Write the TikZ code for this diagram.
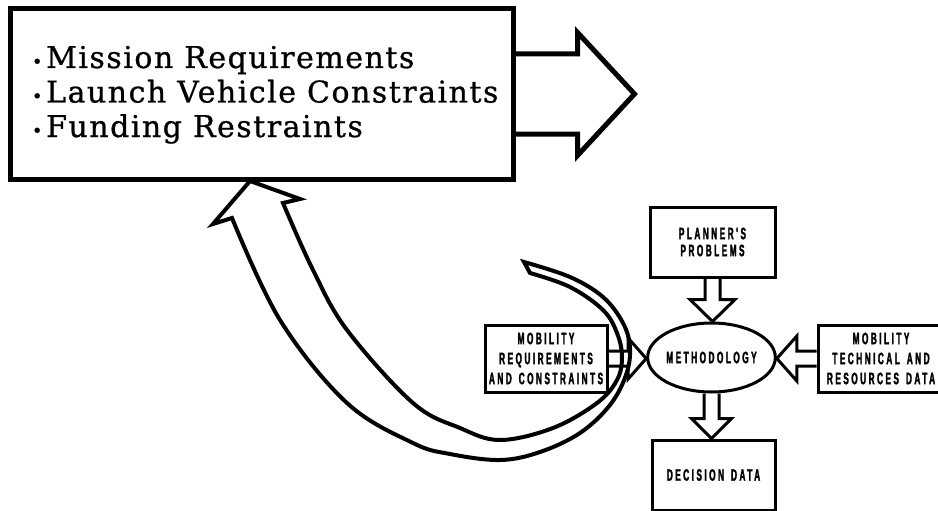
\documentclass[tikz,border=0pt]{standalone}
\usepackage{fontspec}
\usetikzlibrary{calc,shapes.geometric,backgrounds}
\newfontfamily\listfont[LetterSpace=5,FakeBold=0.8]{DejaVu Serif}
\newfontfamily\capsfont[FakeStretch=0.5,LetterSpace=15,FakeBold=1.8,UprightFont={* Bold}]{Liberation Sans}
\newcommand\wsp{\hspace{7pt}}
\tikzset{
  thickbox/.style={draw, line width=5pt, fill=white, inner sep=0pt},
  smallbox/.style={draw, line width=3pt, fill=white, inner sep=0pt, align=center,
    font=\capsfont\fontsize{16.5}{20}\selectfont},
  listtext/.style={anchor=base west, inner sep=0pt, font=\listfont\fontsize{30}{32}\selectfont},
  bigarrow/.style={draw, line width=5pt, fill=white, line join=miter},
  smallarrow/.style={draw, line width=3pt, fill=white, line join=miter},
  loopline/.style={draw, line width=4pt, line join=miter},
}
% style, from, to, shaft half width, head half width, head length
\newcommand\blockarr[6]{%
  \coordinate (ba-h) at ($(#3)!#6!(#2)$);
  \filldraw[#1] ($(#2)!#4!90:(#3)$) -- ($(ba-h)!#4!90:(#3)$) -- ($(ba-h)!#5!90:(#3)$)
    -- (#3) -- ($(ba-h)!#5!-90:(#3)$) -- ($(ba-h)!#4!-90:(#3)$) -- ($(#2)!#4!-90:(#3)$);
}
\newcommand\blt{\makebox[18pt][c]{\fontsize{18}{18}\selectfont •}}
\begin{document}
\begin{tikzpicture}[x=1pt,y=-1pt]
\useasboundingbox (0,0) rectangle (938,511);
\begin{scope}[on background layer]
  \fill[white] (0,0) rectangle (938,511);
\end{scope}

% main box
\node[thickbox, minimum width=503pt, minimum height=170pt] (mainbox) at (261.5,94) {};
\node[listtext] (l1) at (28,68) {\blt Mission Requirements};
\node[listtext] (l2) at (28,102.5) {\blt Launch Vehicle Constraints};
\node[listtext] (l3) at (28,137) {\blt Funding Restraints};
\coordinate (maintip) at ($(mainbox.east)+(119,0)$);

% small diagram
\node[smallbox, minimum width=125pt, minimum height=70pt,
  font=\capsfont\fontsize{16.5}{17}\selectfont] (planner) at (712.5,242) {PLANNER'S\\PROBLEMS};
\node[ellipse, draw, line width=3pt, fill=white, minimum width=113pt, minimum height=69pt,
  inner sep=0pt, font=\capsfont\fontsize{16.5}{20}\selectfont] (meth) at (711.5,357.5) {METHODOLOGY};
\node[smallbox, minimum width=123pt, minimum height=70pt] (decision) at (713.5,475) {DECISION\wsp DATA};
\node[smallbox, minimum width=122pt, minimum height=67pt] (leftbox) at (546,358.5) {MOBILITY\\REQUIREMENTS\\AND\wsp CONSTRAINTS};
\node[smallbox, minimum width=126pt, minimum height=67pt] (rightbox) at (881,358.5) {MOBILITY\\TECHNICAL\wsp AND\\RESOURCES\wsp DATA};

\coordinate (pm) at (planner.south |- meth.north);
\coordinate (md) at (meth.south |- decision.north);
\coordinate (lm) at (leftbox.east -| meth.west);
\coordinate (rm) at (rightbox.west -| meth.east);

\begin{scope}[on background layer]
  \blockarr{bigarrow}{mainbox.east}{maintip}{40pt}{61.5pt}{57pt}
  \blockarr{smallarrow}{planner.south}{pm}{7.5pt}{22.5pt}{22pt}
  \blockarr{smallarrow}{meth.south}{md}{7.5pt}{20pt}{20pt}
  \blockarr{smallarrow}{leftbox.east}{lm}{7.5pt}{20.5pt}{18pt}
  \blockarr{smallarrow}{rightbox.west}{rm}{7.5pt}{22.5pt}{20pt}
\end{scope}

% curved feedback arrow
\coordinate (looptip) at (250,181);
\draw[loopline] (524,262)
  -- plot[smooth, tension=0.6] coordinates {(524,262) (570,277) (603,297) (623,323) (630,348) (626,375) (610,405) (580,433) (540,452) (500,460) (450,454) (413,443) (347,403) (280,320) (232,218)}
  -- (213,224) -- (looptip) -- (300,199) -- (283,203)
  -- plot[smooth, tension=0.6] coordinates {(283,203) (313,270) (347,330) (413,403) (460,428) (500,440) (553,428) (597,403) (617,380) (622,357) (617,333) (603,310) (570,287) (530,273)}
  -- cycle;
\end{tikzpicture}
\end{document}
